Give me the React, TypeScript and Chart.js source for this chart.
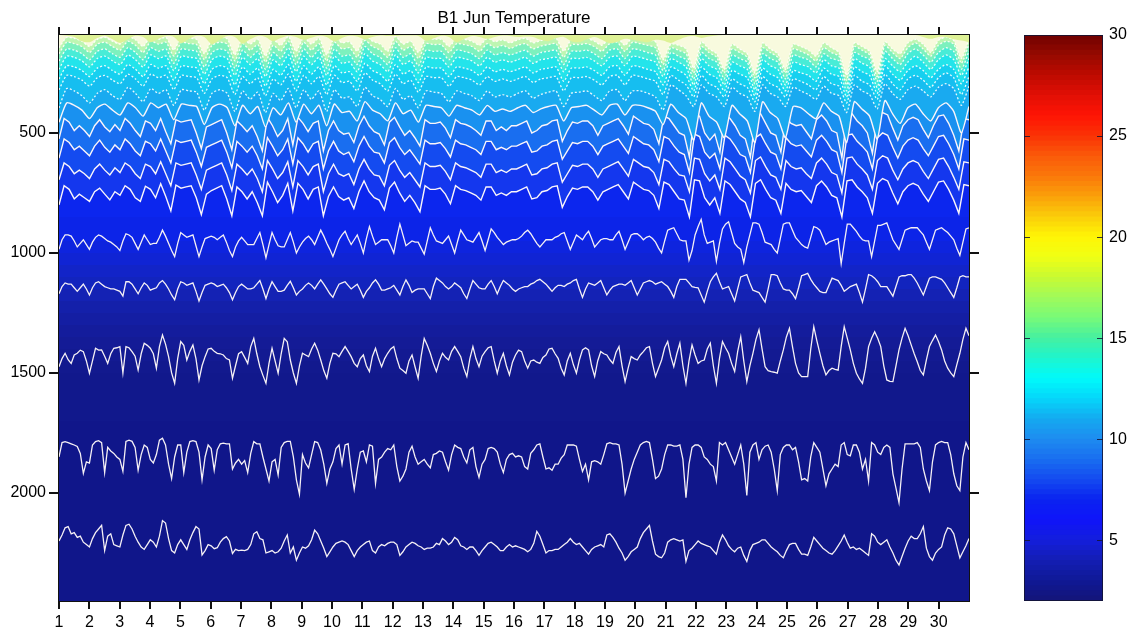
import React, { useEffect, useRef } from "react";
import { Chart, registerables } from "chart.js";

Chart.register(...registerables);

const title = "B1 Jun Temperature";
const dayTicks = [1,2,3,4,5,6,7,8,9,10,11,12,13,14,15,16,17,18,19,20,21,22,23,24,25,26,27,28,29,30];
const depthTicks = [500,1000,1500,2000];
const tempTicks = [5,10,15,20,25,30];

// isotherm depth (m), ten samples a day
const deep2175 = [2200,2175,2145,2140,2170,2165,2185,2180,2205,2215,
2225,2190,2165,2150,2135,2240,2180,2170,2215,2220,
2225,2175,2135,2130,2150,2180,2205,2225,2235,2215,
2195,2205,2225,2180,2115,2125,2190,2240,2250,2215,
2195,2215,2235,2195,2165,2140,2150,2258,2240,2215,
2220,2232,2228,2205,2190,2182,2200,2252,2235,2240,
2238,2240,2235,2215,2170,2161,2190,2195,2250,2245,
2240,2250,2245,2230,2200,2175,2250,2225,2280,2250,
2225,2230,2220,2195,2155,2170,2200,2230,2265,2245,
2225,2210,2205,2200,2205,2215,2240,2265,2240,2225,
2215,2205,2200,2240,2250,2225,2215,2220,2210,2205,
2205,2215,2260,2245,2225,2215,2205,2210,2220,2225,
2235,2230,2230,2225,2210,2215,2190,2200,2215,2205,
2185,2195,2220,2225,2235,2225,2225,2240,2260,2240,
2225,2210,2205,2215,2225,2240,2240,2225,2215,2225,
2220,2225,2230,2235,2245,2235,2210,2160,2180,2215,
2250,2240,2240,2235,2235,2225,2215,2205,2190,2205,
2215,2210,2225,2240,2255,2235,2225,2220,2215,2225,
2175,2170,2185,2205,2230,2250,2280,2265,2245,2235,
2225,2190,2165,2150,2135,2200,2255,2265,2270,2250,
2205,2195,2190,2195,2200,2195,2285,2240,2230,2215,
2200,2210,2215,2220,2225,2240,2255,2205,2175,2195,
2220,2235,2245,2230,2225,2260,2285,2240,2215,2210,
2205,2195,2195,2210,2225,2235,2245,2260,2270,2240,
2215,2210,2210,2235,2255,2255,2260,2225,2185,2200,
2215,2230,2240,2250,2255,2240,2220,2200,2175,2205,
2230,2225,2235,2230,2240,2250,2260,2170,2180,2205,
2215,2205,2195,2225,2250,2280,2300,2265,2230,2200,
2180,2190,2190,2170,2140,2230,2265,2280,2250,2235,
2225,2175,2145,2150,2170,2220,2270,2245,2220,2190];
const deep1820 = [1850,1790,1786,1790,1795,1800,1806,1835,1918,1870,
1875,1800,1786,1782,1790,1915,1810,1825,1835,1850,
1860,1910,1785,1780,1785,1810,1905,1840,1800,1810,
1860,1875,1840,1780,1772,1800,1880,1940,1850,1800,
1800,1915,1830,1786,1782,1786,1830,1945,1850,1800,
1815,1905,1820,1795,1792,1795,1795,1900,1875,1860,
1880,1865,1915,1835,1786,1795,1795,1850,1900,1950,
1870,1860,1925,1810,1790,1785,1785,1850,1945,2005,
1840,1875,1895,1840,1786,1790,1821,1880,1960,1900,
1870,1815,1800,1880,1800,1795,1900,1985,1900,1830,
1825,1870,1800,1805,1960,1860,1850,1830,1815,1820,
1800,1890,1950,1930,1900,1830,1805,1850,1880,1870,
1860,1880,1895,1840,1835,1825,1830,1870,1905,1840,
1800,1810,1815,1850,1875,1820,1810,1890,1935,1880,
1860,1815,1810,1815,1830,1880,1915,1860,1840,1835,
1850,1845,1850,1890,1900,1835,1820,1800,1795,1850,
1900,1895,1905,1880,1880,1855,1840,1800,1800,1800,
1805,1860,1910,1880,1945,1870,1865,1870,1880,1840,
1795,1790,1795,1795,1800,1880,2000,1950,1900,1860,
1830,1800,1790,1785,1790,1860,1940,1930,1900,1840,
1800,1800,1805,1805,1800,1860,2020,1880,1810,1800,
1800,1810,1850,1860,1880,1890,1950,1790,1800,1790,
1820,1850,1880,1840,1800,1880,2010,1830,1800,1790,
1860,1820,1805,1800,1830,1900,1990,1840,1810,1800,
1800,1820,1810,1870,1945,1940,1950,1850,1790,1810,
1830,1900,1970,1920,1900,1880,1890,1800,1790,1840,
1845,1800,1800,1830,1900,1860,1950,1790,1800,1830,
1840,1810,1800,1810,1920,1980,2040,1900,1795,1795,
1795,1795,1790,1810,1900,1950,1990,1870,1800,1790,
1785,1790,1790,1840,1920,1970,1990,1850,1790,1820];
const deep1445 = [1474,1440,1418,1445,1460,1425,1418,1405,1411,1450,
1501,1450,1397,1405,1404,1430,1460,1420,1397,1395,
1390,1500,1390,1395,1411,1430,1488,1420,1376,1385,
1397,1420,1480,1390,1342,1380,1432,1500,1543,1440,
1369,1385,1446,1410,1383,1440,1529,1470,1432,1400,
1397,1410,1418,1420,1425,1440,1446,1522,1470,1420,
1411,1435,1460,1390,1356,1420,1474,1510,1543,1460,
1397,1450,1501,1420,1356,1370,1446,1500,1543,1470,
1418,1425,1432,1400,1376,1405,1446,1490,1522,1460,
1418,1420,1432,1410,1390,1410,1432,1460,1474,1440,
1425,1470,1494,1430,1397,1440,1474,1440,1418,1400,
1390,1440,1480,1490,1501,1450,1425,1475,1522,1430,
1356,1385,1418,1460,1494,1450,1418,1435,1446,1410,
1390,1410,1432,1480,1515,1440,1390,1440,1474,1430,
1411,1395,1390,1450,1501,1450,1418,1470,1508,1455,
1425,1405,1411,1450,1480,1450,1446,1455,1460,1435,
1425,1400,1397,1420,1439,1480,1508,1450,1418,1465,
1501,1445,1404,1395,1404,1470,1515,1450,1411,1420,
1425,1445,1460,1415,1390,1470,1536,1480,1432,1440,
1446,1425,1411,1395,1390,1460,1515,1480,1446,1395,
1369,1430,1474,1420,1376,1470,1543,1450,1383,1425,
1460,1450,1446,1400,1376,1470,1543,1440,1369,1395,
1418,1460,1494,1410,1349,1450,1536,1470,1418,1360,
1320,1400,1474,1490,1494,1497,1501,1450,1404,1350,
1314,1390,1460,1500,1515,1515,1515,1400,1307,1365,
1418,1470,1508,1490,1480,1485,1488,1390,1307,1355,
1404,1460,1501,1525,1543,1480,1390,1355,1328,1355,
1390,1470,1529,1535,1536,1470,1404,1355,1314,1345,
1383,1420,1453,1490,1508,1445,1390,1365,1342,1370,
1404,1450,1480,1500,1515,1465,1418,1360,1314,1345];
const deep1145 = [1170,1140,1125,1130,1130,1145,1160,1145,1130,1150,
1175,1145,1125,1120,1130,1140,1145,1150,1150,1155,
1160,1180,1120,1120,1130,1150,1170,1145,1125,1135,
1155,1150,1145,1125,1115,1130,1150,1175,1195,1150,
1120,1125,1135,1130,1125,1160,1200,1165,1135,1130,
1125,1130,1140,1135,1130,1145,1165,1195,1165,1140,
1130,1140,1150,1150,1145,1130,1115,1150,1190,1150,
1120,1140,1160,1160,1155,1135,1118,1145,1175,1160,
1150,1135,1125,1135,1150,1130,1112,1130,1150,1170,
1185,1155,1130,1125,1120,1135,1150,1140,1130,1155,
1185,1160,1145,1125,1112,1130,1155,1155,1150,1145,
1135,1155,1175,1140,1112,1135,1165,1155,1150,1150,
1150,1170,1190,1140,1105,1115,1125,1140,1150,1140,
1125,1135,1145,1170,1190,1150,1115,1130,1145,1150,
1150,1130,1115,1140,1170,1140,1115,1125,1135,1150,
1160,1150,1145,1140,1140,1130,1125,1115,1110,1120,
1130,1145,1160,1145,1135,1135,1140,1130,1125,1115,
1110,1150,1185,1150,1125,1130,1135,1125,1115,1145,
1175,1155,1140,1135,1130,1130,1135,1125,1115,1145,
1175,1150,1125,1120,1115,1120,1130,1125,1120,1130,
1140,1160,1185,1140,1110,1110,1110,1125,1140,1143,
1145,1175,1205,1160,1120,1100,1085,1120,1150,1145,
1140,1170,1200,1150,1100,1095,1090,1125,1155,1160,
1165,1185,1205,1150,1090,1090,1095,1125,1150,1155,
1155,1170,1190,1145,1095,1090,1085,1110,1130,1145,
1160,1165,1165,1135,1105,1110,1115,1135,1160,1150,
1140,1135,1130,1165,1205,1150,1090,1095,1105,1120,
1140,1140,1140,1160,1180,1140,1100,1095,1095,1090,
1090,1105,1125,1150,1175,1140,1105,1100,1100,1105,
1110,1125,1145,1165,1185,1145,1100,1095,1100,1100];
const deep950 = [985,945,925,925,930,950,975,960,945,965,
985,955,935,925,930,940,950,955,965,975,
990,950,920,925,935,960,985,955,925,945,
965,960,960,935,905,930,960,990,1015,960,
915,925,935,930,925,970,1015,975,940,935,
930,935,945,935,925,955,990,1015,975,950,
935,950,965,965,965,940,915,965,1020,965,
915,945,970,975,975,945,915,955,1000,975,
955,940,930,945,965,935,905,930,960,985,
1015,980,945,925,910,940,965,945,925,960,
1000,940,890,930,965,955,945,945,945,970,
1000,935,880,925,970,960,950,955,955,980,
1005,950,895,925,950,955,960,945,930,965,
1000,950,905,925,945,950,955,935,915,950,
990,945,900,915,935,950,965,955,950,945,
945,940,930,915,905,920,940,960,975,960,
945,945,945,935,930,920,915,950,985,955,
925,935,945,925,910,940,975,960,945,940,
940,945,945,925,910,945,985,955,925,920,
920,930,945,935,930,940,955,980,1000,950,
905,900,895,920,945,950,950,1030,990,925,
890,860,925,960,955,950,1035,960,900,880,
870,915,960,975,985,1040,975,925,875,875,
880,915,955,960,965,985,1000,940,880,875,
875,905,935,950,965,975,980,935,890,895,
905,935,965,955,950,945,940,1045,960,880,
880,895,910,930,945,950,950,1015,950,885,
885,880,875,910,945,965,985,945,905,900,
895,895,895,910,925,955,985,945,905,900,
895,905,915,930,945,980,1010,955,900,895];

// isotherm depth (m), six samples a day
const mid740 = [800,720,735,775,755,770,785,745,730,755,779,745,760,720,735,770,785,722,735,770,712,765,825,717,730,725,720,770,840,755,740,730,720,775,845,725,745,775,745,790,845,705,745,790,760,710,825,710,735,775,735,725,845,765,725,765,780,770,815,745,700,745,770,780,820,730,705,750,785,760,790,828,720,735,735,730,755,795,720,735,740,750,760,780,725,725,760,750,760,745,745,735,725,775,770,745,740,725,720,810,765,730,735,725,725,745,780,745,735,725,715,745,775,705,720,735,740,760,815,705,715,745,775,780,850,695,700,770,800,770,835,700,715,745,775,790,850,710,695,735,770,780,835,710,735,745,740,765,790,720,700,725,760,770,850,700,695,725,745,770,835,710,690,700,750,795,745,720,710,720,755,785,745,705,700,735,780,835,715,720];
const mid640 = [695,625,640,670,655,670,690,650,630,655,675,645,665,625,640,670,690,630,640,670,620,670,720,625,635,630,625,675,735,655,645,635,625,675,740,630,650,675,650,690,745,615,650,690,665,620,725,615,640,675,640,630,745,670,630,670,680,670,715,650,610,650,675,680,720,635,615,655,685,665,695,725,625,640,640,635,660,695,625,640,645,655,665,685,630,630,665,655,665,650,650,640,630,675,670,650,645,630,625,705,670,635,640,630,630,650,685,650,640,630,620,650,680,610,625,640,645,665,715,610,620,650,675,680,745,605,610,670,700,675,735,605,620,650,680,695,750,615,600,640,675,685,735,615,640,650,645,670,690,625,605,630,665,675,750,605,600,630,650,675,735,615,595,605,655,695,650,625,615,625,660,690,650,610,605,640,685,735,620,625];
const mid542 = [605,525,540,570,555,575,595,555,530,560,580,550,570,525,545,575,595,535,545,575,525,575,625,530,540,535,530,580,640,560,550,540,530,580,645,535,555,580,555,595,650,520,555,595,570,525,630,520,545,580,545,535,650,575,535,575,590,580,620,555,515,555,580,585,625,540,520,560,590,570,600,630,530,545,545,540,565,600,530,545,550,560,570,590,535,535,570,560,570,555,555,545,535,580,575,555,550,535,530,610,575,540,545,535,535,555,590,555,545,535,525,555,585,515,530,545,550,570,620,515,525,555,580,590,665,505,515,580,605,585,650,510,525,555,590,600,665,520,505,545,580,590,650,520,545,555,550,575,600,530,510,535,570,580,665,510,505,535,555,580,650,520,500,510,560,605,555,530,520,530,565,595,555,515,510,545,590,650,525,530];
const mid458 = [525,440,455,490,470,490,515,470,445,475,495,465,490,440,460,490,515,450,460,490,440,495,545,445,455,450,445,500,565,475,465,455,445,500,570,450,470,495,470,515,575,435,470,515,490,440,550,435,460,495,460,450,575,490,450,490,505,500,540,470,430,470,495,505,550,455,435,475,510,490,520,555,445,460,460,455,480,520,445,460,465,475,490,510,450,450,490,475,490,470,470,460,450,500,490,470,465,450,445,535,490,455,460,450,450,470,510,470,460,450,440,470,505,430,445,460,465,485,545,430,440,470,500,510,600,420,430,500,530,505,580,425,440,470,510,525,600,435,420,460,500,510,580,435,460,470,465,495,525,445,425,450,490,500,605,425,420,450,470,500,585,435,415,425,480,530,470,445,435,445,485,520,470,430,425,460,510,575,440,445];

// isotherm depth (m), four samples a day
const mid392 = [455,375,385,405,440,395,380,405,425,375,395,430,375,395,380,445,380,385,390,465,395,380,395,470,385,420,390,475,395,425,375,455,380,420,385,470,380,415,410,450,370,405,420,450,375,420,405,455,385,390,395,430,385,395,405,425,385,410,400,410,395,385,415,400,390,385,450,395,390,385,405,425,385,380,425,385,385,395,410,465,380,415,440,530,375,430,455,520,385,420,450,540,370,415,440,520,390,395,420,440,375,410,430,540,370,400,430,525,365,420,460,395,380,420,450,395,375,410,500,390];
const mid330 = [395,315,325,345,375,335,320,345,360,310,335,370,315,335,320,385,320,325,330,405,335,320,335,410,325,360,330,415,335,365,315,395,320,360,325,410,320,355,350,390,310,345,360,390,315,360,345,395,325,330,335,370,325,335,345,365,325,350,340,350,335,325,355,340,330,325,390,335,330,325,345,365,325,320,365,325,325,335,350,405,300,320,345,390,300,335,350,390,310,335,350,410,300,335,350,390,310,325,340,360,305,335,345,415,300,325,340,400,295,335,360,320,305,325,350,310,295,315,385,305];
const top279 = [320,260,265,280,305,270,260,280,295,255,275,305,255,270,260,320,260,265,270,335,275,260,270,340,265,295,270,345,275,300,255,325,260,295,265,340,260,290,285,325,250,280,295,325,255,295,280,330,265,270,270,305,265,270,280,300,265,285,275,285,275,265,290,275,270,265,325,270,270,265,280,300,265,260,300,260,265,275,285,340,260,280,300,350,260,295,310,350,275,295,310,370,265,295,310,350,275,285,300,320,265,295,305,375,260,285,300,360,255,295,320,275,260,280,310,270,250,270,340,265];
const top238 = [275,220,225,240,265,230,220,240,255,215,235,265,215,230,220,280,220,225,230,295,235,220,230,300,225,255,230,305,235,260,215,285,220,255,225,300,220,250,245,285,210,240,255,285,215,255,240,290,225,230,230,265,225,230,240,260,225,245,235,245,235,225,250,235,230,225,285,230,230,225,240,260,225,220,260,220,225,235,245,300,225,240,260,325,225,255,270,325,240,255,270,345,230,255,270,325,240,250,260,285,230,255,265,350,225,245,260,335,220,255,280,240,220,240,270,235,215,235,295,225];
const top196 = [235,180,185,200,225,190,180,200,215,175,195,225,175,190,180,240,180,185,190,255,195,180,190,260,185,215,190,265,195,220,175,245,180,215,185,260,180,210,205,245,170,200,215,245,175,215,200,250,185,190,190,225,185,190,200,220,185,205,195,205,195,185,210,195,190,185,245,190,190,185,200,220,185,180,220,180,185,195,205,265,190,205,225,300,190,220,235,300,205,220,235,320,195,220,235,300,205,215,225,250,195,220,230,325,190,210,225,310,190,220,245,205,180,205,235,195,175,195,260,190];
const top163 = [200,150,155,170,195,160,150,170,185,145,165,195,145,160,150,210,150,155,160,225,165,150,160,230,155,185,160,235,165,190,145,215,150,185,155,230,150,180,175,215,140,170,185,215,145,185,170,220,155,160,160,195,155,160,170,190,155,175,165,175,165,155,180,165,160,155,215,160,160,155,170,190,155,150,190,150,155,165,175,240,165,180,195,275,165,190,205,275,175,190,205,295,170,190,205,275,175,185,195,225,170,190,200,300,165,180,195,285,160,190,215,170,150,175,205,165,145,160,235,160];
const top133 = [170,122,128,140,165,130,122,140,155,118,135,165,118,130,122,180,122,128,132,195,135,122,130,200,128,155,132,205,135,160,118,185,122,155,128,200,122,150,145,185,115,140,155,185,118,155,140,190,128,132,132,165,128,132,140,160,128,145,135,148,135,128,150,138,132,128,185,132,132,128,140,160,128,122,160,122,128,135,145,215,145,155,170,250,140,165,185,250,150,165,185,270,145,165,185,250,150,160,175,200,145,165,180,280,140,155,175,265,135,165,190,145,125,150,180,135,118,130,210,130];
const top112 = [145,102,106,118,140,110,102,118,130,98,112,140,98,110,102,155,102,106,110,170,112,102,108,175,106,130,110,180,112,135,98,160,102,130,106,175,102,125,120,160,96,118,130,160,98,130,118,165,106,110,110,140,106,110,118,135,106,120,112,125,112,106,125,115,110,106,160,110,110,106,118,135,106,102,135,102,106,112,120,195,130,135,150,230,120,150,170,235,130,150,170,250,125,150,170,235,130,140,155,180,125,145,165,260,125,140,160,245,120,150,170,125,110,130,165,115,100,115,190,110];
const patches = [92,95,100,118,122,105,95,110,125,110,95,100,122,108,96,100,126,108,95,100,130,112,96,100,128,110,96,100,118,105,95,100,112,103,95,100,118,104,95,98,110,100,94,96,96,94,94,96,116,106,95,100,122,108,96,100,108,100,94,96,100,98,100,112,118,105,100,118,122,110,100,112,126,120,108,112,118,122,112,115,125,112,100,96,104,98,94,92,92,92,92,92,92,92,92,92,92,92,92,92,92,92,92,92,92,92,92,92,92,92,92,92,92,100,108,100,100,110,115,122];

const deepLines = [deep950, deep1145, deep1445, deep1820, deep2175];
const midLines = [mid392, mid458, mid542, mid640, mid740];
const topLines = [top112, top133, top163, top196, top238, top279, mid330];

// colour above each wavy isotherm, shallow to deep
const patchColor = "rgb(222,242,150)";
const topPalette = ["rgb(248,250,222)","rgb(190,246,178)","rgb(125,241,190)","rgb(72,236,215)","rgb(35,228,235)","rgb(22,208,240)","rgb(22,190,240)"];
const midPalette = ["rgb(25,170,240)","rgb(25,145,240)","rgb(25,110,240)","rgb(20,75,240)","rgb(20,55,238)"];

// flat colour bands under the wavy part
const bandDepths = [92,850,950,1000,1050,1100,1150,1200,1250,1300,1350,1400,1450,1500,1700,2450];
const bandPalette = ["rgb(12,38,238)","rgb(12,36,232)","rgb(14,36,222)","rgb(16,36,212)","rgb(18,36,200)","rgb(18,36,190)","rgb(20,34,180)","rgb(20,32,170)","rgb(20,30,163)","rgb(20,28,156)","rgb(20,27,150)","rgb(19,26,146)","rgb(18,25,142)","rgb(17,24,140)","rgb(16,22,138)"];

// colour bar
const barTemps = [2,3,4,5,6,7,8,9,10,11,12,13,14,15,16,17,18,19,20,21,22,23,24,25,26,27,28,29,30];
const barPalette = [[20,20,120],[15,25,150],[20,30,180],[20,30,220],[15,20,250],[10,35,240],[20,75,240],[25,110,240],[30,140,240],[20,170,240],[5,215,250],[0,250,250],[30,245,205],[70,240,160],[120,250,120],[160,250,90],[200,250,50],[240,255,20],[255,245,5],[250,205,10],[250,160,10],[250,120,10],[250,90,10],[250,50,5],[255,20,5],[225,15,5],[190,10,0],[150,10,0],[110,0,0]];

const FONT = "'Liberation Sans', Arial, sans-serif";
const DEPTH_MIN = 92, DEPTH_MAX = 2450, DAY_MIN = 1, DAY_MAX = 31;

const points = (values: number[]) =>
  values.map((y, i) => ({ x: DAY_MIN + (i * (DAY_MAX - DAY_MIN)) / (values.length - 1), y }));

const isoline = (values: number[], color: string, width: number, smooth: number, fillColor?: string, dash?: number[]) => ({
  type: "line",
  data: points(values),
  borderColor: color,
  borderWidth: width,
  borderDash: dash || [],
  pointRadius: 0,
  tension: smooth,
  backgroundColor: fillColor || "transparent",
  fill: fillColor ? { value: DEPTH_MIN } : false,
});

export default function App() {
  const mainRef = useRef<HTMLCanvasElement>(null);
  const barRef = useRef<HTMLCanvasElement>(null);

  useEffect(() => {
    const patchSet = isoline(patches, "rgba(0,0,0,0)", 1, 0.3, patchColor);
    const topSets = topLines.map((v, i) => isoline(v, "rgba(255,255,255,0.9)", 1.3, 0.2, topPalette[i], [2, 2]));
    const midSets = midLines.map((v, i) => isoline(v, "rgb(250,245,250)", 1.4, i === 0 ? 0.2 : 0, midPalette[i]));
    const deepSets = deepLines.map((v) => isoline(v, "rgb(245,240,245)", 1.3, 0));
    const bandSets = bandPalette.map((c, i) => ({
      type: "line",
      data: [{ x: DAY_MIN, y: bandDepths[i] }, { x: DAY_MAX, y: bandDepths[i] }],
      borderWidth: 0,
      borderColor: "rgba(0,0,0,0)",
      pointRadius: 0,
      backgroundColor: c,
      fill: { value: bandDepths[i + 1] },
    }));

    const outer = (tickLength: number) => ({
      grid: { drawOnChartArea: false, color: "#111", lineWidth: 2, tickLength, tickWidth: 2, tickColor: "#111" },
      border: { display: true, color: "#111", width: 2 },
    });
    const xAxis = (position: string, labels: boolean, height: number) => ({
      type: "linear", position, min: DAY_MIN, max: DAY_MAX,
      afterBuildTicks: (ax: any) => { ax.ticks = dayTicks.map((value) => ({ value })); },
      afterFit: (ax: any) => { ax.height = height; },
      ticks: { display: labels, autoSkip: false, maxRotation: 0, padding: 4, color: "#000", font: { family: FONT, size: 16 }, callback: (v: any) => String(v) },
      ...outer(8),
    });
    const yAxis = (position: string, labels: boolean, width: number) => ({
      type: "linear", position, min: DEPTH_MIN, max: DEPTH_MAX, reverse: true,
      afterBuildTicks: (ax: any) => { ax.ticks = depthTicks.map((value) => ({ value })); },
      afterFit: (ax: any) => { ax.width = width; },
      ticks: { display: labels, padding: 3, color: "#000", font: { family: FONT, size: 16 }, callback: (v: any) => String(v) },
      ...outer(10),
    });

    const main = new Chart(mainRef.current as any, {
      type: "line",
      data: { datasets: [patchSet, ...topSets, ...midSets, ...deepSets, ...bandSets] as any },
      options: {
        animation: false,
        responsive: false,
        parsing: { xAxisKey: "x", yAxisKey: "y" },
        layout: { padding: 0 },
        plugins: {
          legend: { display: false },
          tooltip: { enabled: false },
          title: { display: true, text: title, color: "#000", fullSize: false, font: { family: FONT, size: 17, weight: "normal" }, padding: { top: 8.6, bottom: 0 } },
        },
        scales: {
          x: xAxis("bottom", true, 36),
          x2: xAxis("top", false, 6),
          y: yAxis("left", true, 59),
          y2: yAxis("right", false, 165),
        },
      } as any,
    });

    const levels: number[] = [];
    barTemps.slice(0, -1).forEach((t) => { levels.push(t, t + 0.25, t + 0.5, t + 0.75); });
    const shade = (t: number) => {
      const i = Math.floor(t - barTemps[0]);
      const a = barPalette[i], b = barPalette[i + 1];
      const f = t - barTemps[i];
      return `rgb(${a.map((c, k) => Math.round(c + (b[k] - c) * (f + 0.125))).join(",")})`;
    };
    const barFrame = {
      id: "barFrame",
      afterDraw(chart: any) {
        const { ctx, chartArea: a, scales } = chart;
        ctx.save();
        ctx.strokeStyle = "rgba(20,20,50,0.85)";
        ctx.lineWidth = 1;
        ctx.strokeRect(a.left + 0.5, a.top + 0.5, a.right - a.left - 1, a.bottom - a.top - 1);
        tempTicks.forEach((t) => {
          const y = Math.round(scales.y.getPixelForValue(t)) + 0.5;
          ctx.beginPath();
          ctx.moveTo(a.left, y); ctx.lineTo(a.left + 6, y);
          ctx.moveTo(a.right - 6, y); ctx.lineTo(a.right, y);
          ctx.stroke();
        });
        ctx.restore();
      },
    };
    const bar = new Chart(barRef.current as any, {
      type: "bar",
      data: {
        labels: ["T"],
        datasets: levels.map((t) => ({
          data: [[t, t + 0.26]],
          backgroundColor: shade(t),
          borderWidth: 0,
          barPercentage: 1,
          categoryPercentage: 1,
          grouped: false,
        })) as any,
      },
      options: {
        animation: false,
        responsive: false,
        layout: { padding: { left: 24, top: 35, bottom: 36, right: 0 } },
        plugins: { legend: { display: false }, tooltip: { enabled: false } },
        scales: {
          x: { display: false },
          y: {
            type: "linear", position: "right", min: 2, max: 30,
            afterBuildTicks: (ax: any) => { ax.ticks = tempTicks.map((value) => ({ value })); },
            afterFit: (ax: any) => { ax.width = 31; },
            grid: { display: false, drawTicks: false },
            border: { display: false },
            ticks: { padding: 6, color: "#000", font: { family: FONT, size: 16 } },
          },
        },
      } as any,
      plugins: [barFrame],
    });

    return () => { main.destroy(); bar.destroy(); };
  }, []);

  return (
    <div style={{ position: "absolute", left: 0, top: 0, width: 1134, height: 637, background: "#fff" }}>
      <canvas ref={mainRef} width={1134} height={637} style={{ position: "absolute", left: 0, top: 0 }} />
      <canvas ref={barRef} width={134} height={637} style={{ position: "absolute", left: 1000, top: 0 }} />
    </div>
  );
}
